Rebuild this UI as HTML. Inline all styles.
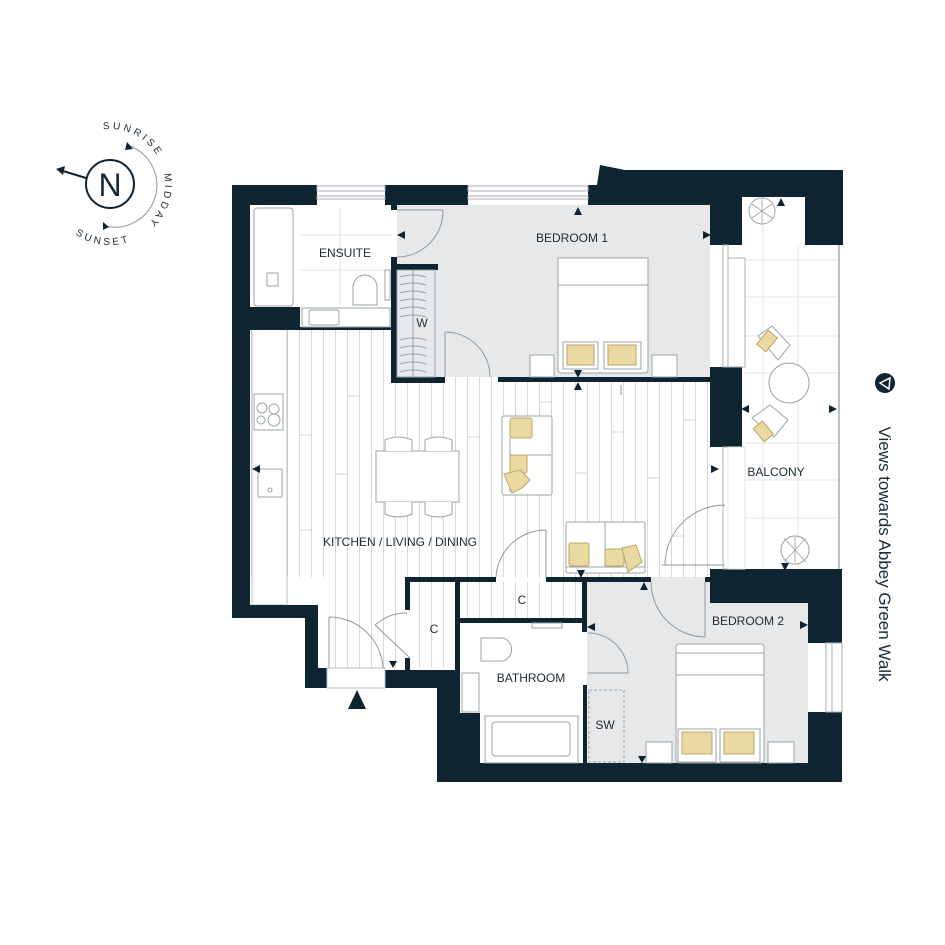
<!DOCTYPE html>
<html><head><meta charset="utf-8"><style>
html,body{margin:0;padding:0;background:#fff;}
svg{display:block;}
text{font-family:"Liberation Sans",sans-serif;fill:#1b2b36;}
</style></head><body>
<svg width="945" height="945" viewBox="0 0 945 945" xmlns="http://www.w3.org/2000/svg">
<defs>
<pattern id="pl" x="287" y="0" width="12" height="60" patternUnits="userSpaceOnUse">
<rect width="12" height="60" fill="#fff"/>
<line x1="0.5" y1="0" x2="0.5" y2="60" stroke="#d3d9de" stroke-width="1"/>
</pattern>
</defs>
<!-- floors -->
<rect x="250" y="327" width="462" height="250" fill="url(#pl)"/>
<rect x="327" y="577" width="78" height="91" fill="url(#pl)"/>
<rect x="410" y="582" width="47" height="86" fill="url(#pl)"/>
<rect x="461" y="582" width="121" height="36" fill="url(#pl)"/>
<g stroke="#d3d9de" stroke-width="1">
<line x1="299" y1="435" x2="311" y2="435"/><line x1="335" y1="474" x2="347" y2="474"/>
<line x1="347" y1="396" x2="359" y2="396"/><line x1="407" y1="545" x2="419" y2="545"/>
<line x1="467" y1="437" x2="479" y2="437"/><line x1="539" y1="402" x2="551" y2="402"/>
<line x1="575" y1="473" x2="587" y2="473"/><line x1="611" y1="432" x2="623" y2="432"/>
<line x1="647" y1="478" x2="659" y2="478"/><line x1="683" y1="420" x2="695" y2="420"/>
<line x1="299" y1="530" x2="311" y2="530"/><line x1="671" y1="536" x2="683" y2="536"/>
</g>
<rect x="252" y="327" width="35" height="278" fill="#fff" stroke="#b8c0c6" stroke-width="1"/>
<rect x="397" y="205" width="313" height="172" fill="#e7e8ea"/>
<rect x="587" y="582" width="221" height="181" fill="#e7e8ea"/>
<rect x="651" y="577" width="62" height="26" fill="#e7e8ea"/>
<!-- balcony tiles -->
<g stroke="#e1e5e8" stroke-width="1">
<line x1="763" y1="197" x2="763" y2="569"/><line x1="798" y1="245" x2="798" y2="569"/>
<line x1="745" y1="260" x2="838" y2="260"/><line x1="745" y1="297" x2="838" y2="297"/>
<line x1="745" y1="336" x2="838" y2="336"/><line x1="745" y1="373" x2="838" y2="373"/>
<line x1="745" y1="443" x2="838" y2="443"/><line x1="745" y1="480" x2="838" y2="480"/>
<line x1="745" y1="518" x2="838" y2="518"/>
</g>
<g stroke="#e1e5e8" stroke-width="1">
<line x1="300" y1="235" x2="392" y2="235"/><line x1="300" y1="270" x2="392" y2="270"/>
<line x1="340" y1="207" x2="340" y2="305"/>
</g>
<line x1="839" y1="245" x2="839" y2="569" stroke="#b8c0c6" stroke-width="2"/>
<!-- walls -->
<g fill="#0f2431">
<polygon points="232,185 317,185 317,205 250,205 250,307 300,307 300,330 250,330 250,605 318,605 318,668 327,668 327,688 305,688 305,618 232,618"/>
<rect x="385" y="185" width="83" height="20"/>
<rect x="391" y="205" width="6" height="5"/>
<rect x="391" y="257" width="6" height="125"/>
<rect x="391" y="264" width="47" height="6"/>
<rect x="391" y="377" width="54" height="6"/>
<rect x="300" y="327" width="92" height="3"/>
<polygon points="588,185 597,185 600,165 625,170 843,170 843,245 805,245 805,197 742,197 742,245 710,245 710,205 588,205"/>
<rect x="710" y="367" width="32" height="80"/>
<rect x="498" y="377" width="212" height="5"/>
<polygon points="385,670 455,670 455,577 460,577 460,713 480,713 480,763 808,763 808,712 842,712 842,782 437,782 437,688 385,688"/>
<rect x="405" y="577" width="91" height="5"/>
<rect x="405" y="577" width="5" height="33"/>
<rect x="405" y="658" width="5" height="12"/>
<rect x="546" y="577" width="105" height="5"/>
<rect x="460" y="618" width="127" height="5"/>
<rect x="582" y="577" width="5" height="55"/>
<rect x="583" y="685" width="4" height="78"/>
<rect x="705" y="577" width="8" height="5"/>
<polygon points="710,569 842,569 842,643 808,643 808,603 710,603"/>
</g>
<!-- windows -->
<g fill="#fff" stroke="#a9b2b8" stroke-width="1">
<rect x="317" y="186" width="68" height="5"/><rect x="317" y="196" width="68" height="3"/>
<rect x="468" y="186" width="120" height="5"/><rect x="468" y="196" width="120" height="3"/>
<rect x="723" y="245" width="5" height="122"/><rect x="728" y="258" width="17" height="109"/>
<rect x="723" y="447" width="5" height="122"/><rect x="728" y="447" width="17" height="122" stroke="#e1e5e8"/>
<rect x="826" y="643" width="6" height="69"/><rect x="832" y="643" width="10" height="69"/>
</g>
<!-- doors -->
<g fill="none" stroke="#8f999f" stroke-width="1">
<path d="M397 210 L443 210 A46 46 0 0 1 397 257"/>
<path d="M445 332 L445 377 M445 332 A45 45 0 0 1 490 377"/>
<path d="M329 617 L329 668 M329 617 A54 54 0 0 1 383 668"/>
<path d="M410 658 L375 625 M375 625 A48 48 0 0 1 407 613"/>
<path d="M546 530 L546 577 M546 530 A50 50 0 0 0 496 577"/>
<path d="M662 565 L725 565 M725 505 A60 60 0 0 0 665 565"/>
<path d="M651 582 A55 55 0 0 0 705 637 L705 582"/>
<path d="M588 633 A40 40 0 0 1 628 673 L588 673"/>
</g>
<rect x="327" y="668" width="58" height="20" fill="#fff" stroke="#b8c0c6"/>
<polygon points="348,709 357,690 366,709" fill="#0f2431"/>
<!-- SW -->
<rect x="589" y="690" width="35" height="72" fill="none" stroke="#9aa3a9" stroke-dasharray="3,2"/>
<!-- ensuite fixtures -->
<g fill="#fff" stroke="#9aa3a9" stroke-width="1">
<rect x="254" y="208" width="39" height="98" rx="3"/>
<rect x="267" y="273" width="11" height="13"/>
<path d="M353 305 L353 287 A12 12 0 0 1 377 287 L377 305 Z"/>
<rect x="302" y="308" width="88" height="19"/>
<rect x="309" y="310" width="30" height="15" rx="2"/>
<rect x="385" y="270" width="5" height="30"/>
</g>
<!-- wardrobe -->
<g stroke="#9aa3a9" stroke-width="1" fill="none">
<rect x="397" y="270" width="38" height="107" fill="#e7e8ea"/>
<line x1="413" y1="270" x2="413" y2="377"/>
<path d="M400 277 q13 -4 26 0 M400 285 q13 -4 26 0 M400 293 q13 -4 26 0 M400 301 q13 -4 26 0 M400 309 q13 -4 26 0 M400 317 q13 -4 26 0 M400 340 q13 -4 26 0 M400 348 q13 -4 26 0 M400 356 q13 -4 26 0 M400 364 q13 -4 26 0 M400 372 q13 -4 26 0"/>
</g>
<!-- bed 1 -->
<g stroke="#9aa3a9" stroke-width="1" fill="#fff">
<rect x="558" y="258" width="90" height="115" rx="3"/>
<rect x="558" y="258" width="90" height="27"/>
<rect x="530" y="355" width="24" height="22"/><rect x="652" y="355" width="25" height="22"/>
<rect x="563" y="342" width="35" height="27"/><rect x="604" y="342" width="37" height="27"/>
</g>
<rect x="567" y="345" width="27" height="20" fill="#ead9a0" stroke="#b9a66b"/>
<rect x="608" y="345" width="28" height="20" fill="#ead9a0" stroke="#b9a66b"/>
<!-- bed 2 -->
<g stroke="#9aa3a9" stroke-width="1" fill="#fff">
<rect x="676" y="644" width="88" height="119" rx="3"/>
<rect x="676" y="653" width="88" height="22"/>
<rect x="646" y="742" width="26" height="21"/><rect x="768" y="742" width="26" height="21"/>
<rect x="678" y="729" width="38" height="33"/><rect x="720" y="729" width="40" height="33"/>
</g>
<rect x="682" y="732" width="30" height="22" fill="#ead9a0" stroke="#b9a66b"/>
<rect x="724" y="732" width="30" height="22" fill="#ead9a0" stroke="#b9a66b"/>
<!-- kitchen -->
<g stroke="#9aa3a9" stroke-width="1" fill="#fff">
<rect x="254" y="394" width="29" height="36"/>
<circle cx="262" cy="408" r="5"/><circle cx="274" cy="409" r="5"/><circle cx="261" cy="420" r="4"/><circle cx="274" cy="420" r="6"/>
<rect x="258" y="469" width="24" height="28" rx="1"/><circle cx="270" cy="490" r="2"/>
<rect x="376" y="451" width="83" height="51"/>
<path d="M385 451 L385 440 Q398 434 412 440 L412 451 M425 451 L425 440 Q438 434 452 440 L452 451 M385 502 L385 514 Q398 520 412 514 L412 502 M425 502 L425 514 Q438 520 452 514 L452 502"/>
<rect x="502" y="416" width="50" height="79" rx="2"/>
<line x1="510" y1="438" x2="510" y2="492"/><line x1="510" y1="455" x2="551" y2="455"/>
<rect x="566" y="522" width="79" height="51" rx="2"/>
<line x1="605" y1="522" x2="605" y2="567"/><line x1="566" y1="567" x2="645" y2="567"/>
</g>
<g fill="#ead9a0" stroke="#b9a66b" stroke-width="1">
<rect x="510" y="418" width="22" height="20" rx="2"/>
<rect x="510" y="455" width="17" height="18" rx="2"/>
<path d="M504 474 L520 470 L530 480 L522 488 L512 493 Z"/>
<rect x="569" y="543" width="20" height="23" rx="2"/>
<rect x="605" y="549" width="19" height="17" rx="2"/>
<path d="M622 548 L636 545 L642 562 L628 572 Z"/>
</g>
<!-- bathroom -->
<g stroke="#9aa3a9" stroke-width="1" fill="#fff">
<path d="M481 638 L503 638 A12 12 0 0 1 503 661 L481 661 Z"/>
<rect x="462" y="673" width="17" height="39"/>
<rect x="485" y="716" width="93" height="47"/><rect x="492" y="722" width="78" height="34" rx="3"/>
<rect x="532" y="623" width="30" height="5"/>
</g>
<!-- balcony furniture -->
<g stroke="#9aa3a9" stroke-width="1" fill="#fff">
<circle cx="762" cy="211" r="13"/><circle cx="795" cy="550" r="14"/>
<circle cx="789" cy="383" r="20"/>
<path d="M758 336 L772 326 L790 345 L778 360 Z"/>
<path d="M752 418 L770 405 L788 420 L774 437 Z"/>
</g>
<g stroke="#9aa3a9" stroke-width="0.8"><path d="M752 204 L772 218 M752 218 L772 204 M762 199 L762 223 M784 538 L806 562 M784 562 L806 538 M795 537 L795 563"/></g>
<rect x="761" y="332" width="12" height="18" fill="#ead9a0" stroke="#b9a66b" transform="rotate(40 767 341)"/>
<rect x="757" y="423" width="12" height="17" fill="#ead9a0" stroke="#b9a66b" transform="rotate(-40 763 431)"/>
<!-- arrow markers -->
<g fill="#0f2431">
<polygon points="574,215 578,207 582,215"/>
<polygon points="405,231 397,235 405,239"/><polygon points="703,231 711,235 703,239"/>
<polygon points="574,370 578,378 582,370"/><polygon points="574,390 578,382 582,390"/>
<polygon points="777,206 781,198 785,206"/>
<polygon points="252,469 260,465 260,473"/>
<polygon points="711,465 719,469 711,473"/>
<polygon points="749,405 741,409 749,413"/><polygon points="829,405 837,409 829,413"/>
<polygon points="577,570 581,578 585,570"/><polygon points="640,590 644,582 648,590"/>
<polygon points="781,563 785,571 789,563"/>
<polygon points="595,623 587,627 595,631"/><polygon points="800,621 808,625 800,629"/>
<polygon points="389,661 393,668 397,661"/><polygon points="638,756 642,763 646,756"/>
</g>
<line x1="621" y1="385" x2="621" y2="395" stroke="#8f999f"/>
<!-- labels -->
<g font-size="12" text-anchor="middle">
<text x="345" y="257">ENSUITE</text>
<text x="572" y="242">BEDROOM 1</text>
<text x="422" y="327">W</text>
<text x="400" y="546">KITCHEN / LIVING / DINING</text>
<text x="776" y="476">BALCONY</text>
<text x="434" y="633">C</text>
<text x="522" y="604">C</text>
<text x="748" y="625">BEDROOM 2</text>
<text x="531" y="682">BATHROOM</text>
<text x="605" y="729">SW</text>
</g>
<!-- view label -->
<circle cx="885" cy="383" r="10" fill="#0f2431"/>
<polygon points="880,383 890,378 889,389" fill="none" stroke="#fff" stroke-width="1.5"/>
<text x="0" y="0" font-size="17" text-anchor="middle" transform="translate(879,554) rotate(90)">Views towards Abbey Green Walk</text>
<!-- compass -->
<circle cx="110" cy="184" r="24" fill="none" stroke="#0f2431" stroke-width="2"/>
<text x="110" y="196" font-size="32" text-anchor="middle" fill="#0f2431">N</text>
<line x1="86" y1="178" x2="63" y2="171" stroke="#0f2431" stroke-width="2"/>
<polygon points="56,169 65,166 63,175" fill="#0f2431"/>
<path d="M130 146 A42 42 0 0 1 105 226" fill="none" stroke="#8f999f" stroke-width="1"/>
<polygon points="127,142 133,149 125,150" fill="#0f2431"/>
<polygon points="103,222 103,230 109,227" fill="#0f2431"/>
<path id="cw" d="M55 184 A55 55 0 1 1 165 184 A55 55 0 1 1 55 184" fill="none"/>
<path id="ccw" d="M49 184 A61 61 0 1 0 171 184 A61 61 0 1 0 49 184" fill="none"/>
<text font-size="10" letter-spacing="3"><textPath href="#cw" startOffset="112" text-anchor="middle">SUNRISE</textPath></text>
<text font-size="10" letter-spacing="3"><textPath href="#cw" startOffset="190" text-anchor="middle">MIDDAY</textPath></text>
<text font-size="10" letter-spacing="3"><textPath href="#ccw" startOffset="88" text-anchor="middle">SUNSET</textPath></text>
</svg>
</body></html>
